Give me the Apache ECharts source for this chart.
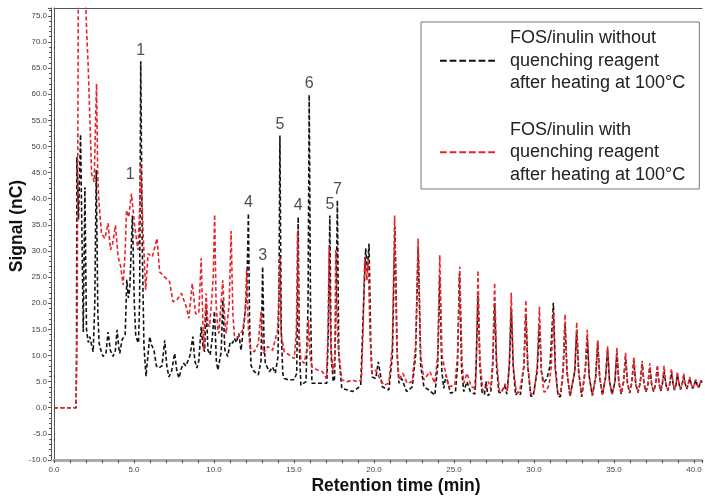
<!DOCTYPE html>
<html>
<head>
<meta charset="utf-8">
<script src="https://cdn.jsdelivr.net/npm/echarts@6/dist/echarts.min.js"></script>
<style>html,body{margin:0;padding:0;background:#fff}#c{width:705px;height:496px}</style>
</head>
<body>
<div id="c"></div>
<script>
// [retention time (min), signal (nC)]
const blackTrace = [
[0,0],[1.38,0],[1.41,12],[1.43,48],[1.53,36],[1.66,52.3],[1.76,30],[1.83,14.5],[1.93,42.2],[2.03,15],[2.14,12.5],[2.24,13.6],[2.35,12],[2.45,10.7],[2.55,20],[2.64,45.5],[2.74,18],[2.82,12.4],[2.97,10.5],[3.07,9.8],[3.25,10.5],[3.38,14.5],[3.52,11],[3.69,9.8],[3.84,11],[3.94,14.9],[4.05,11.5],[4.11,10.4],[4.25,13],[4.36,12.9],[4.45,14],[4.55,24.5],[4.65,21],[4.74,23],[4.90,36.8],[5.02,20],[5.11,13.6],[5.28,12.4],[5.35,20],[5.42,66.3],[5.52,30],[5.62,12],[5.75,6],[5.84,5.7],[5.98,13.6],[6.10,12],[6.25,11],[6.40,8],[6.54,7.6],[6.75,8],[6.92,12.9],[7.05,8],[7.18,5.9],[7.35,7],[7.54,10.4],[7.68,7],[7.81,5.7],[7.96,7.5],[8.10,8.5],[8.25,8],[8.37,7.8],[8.50,10],[8.68,13.6],[8.80,9],[8.93,7.6],[9.05,9],[9.20,15.5],[9.30,12],[9.41,10.7],[9.51,20],[9.62,11],[9.76,10.1],[9.88,13],[10.03,18.5],[10.15,9],[10.24,7.2],[10.35,9],[10.45,10.7],[10.55,20.6],[10.68,11],[10.86,9.8],[11.01,12.6],[11.17,12.4],[11.28,13.3],[11.40,12.5],[11.55,14.2],[11.69,11],[11.90,16.8],[12.05,22],[12.15,37.2],[12.23,15],[12.32,8],[12.52,6.9],[12.77,6.3],[12.94,9],[13.04,27],[13.13,12],[13.21,8.5],[13.46,6.9],[13.66,7.8],[13.83,6.6],[14.00,9.8],[14.06,22],[14.12,52.1],[14.20,15],[14.30,6.5],[14.39,5.6],[14.70,5.3],[15.02,5.4],[15.17,6.6],[15.22,20],[15.26,36.5],[15.33,12],[15.43,4.3],[15.75,5],[15.88,20],[15.95,59.9],[16.03,20],[16.12,4.7],[16.47,4.7],[16.78,4.7],[17.05,4.7],[17.15,15],[17.24,36.8],[17.32,10],[17.45,5],[17.53,5.5],[17.63,20],[17.71,39.7],[17.80,10],[17.99,3.7],[18.34,3.4],[18.65,3.1],[18.96,3.7],[19.17,4.3],[19.35,20],[19.48,30.5],[19.58,26.3],[19.69,31.4],[19.80,12],[19.89,5.9],[20.11,5.6],[20.27,8.8],[20.52,4],[20.93,3.4],[21.15,10],[21.31,34.6],[21.45,10],[21.56,4.7],[21.73,5.6],[22.04,3.1],[22.39,4],[22.60,10],[22.76,30.8],[22.92,8],[23.12,4],[23.43,3.4],[23.80,2.4],[23.98,8],[24.11,25],[24.24,7],[24.36,3.7],[24.50,6.3],[24.78,2.8],[25.09,3.1],[25.22,8],[25.34,25.7],[25.48,7],[25.61,3.1],[25.81,5],[26.02,3.1],[26.30,2.6],[26.38,8],[26.50,21.5],[26.62,8],[26.75,3],[26.90,2.5],[27.00,5],[27.12,2.3],[27.30,3],[27.42,8],[27.54,20],[27.66,8],[27.80,3],[27.95,2.8],[28.16,4.3],[28.30,2.6],[28.46,8],[28.58,19],[28.70,8],[28.85,2.4],[29.00,3],[29.15,2.5],[29.37,8],[29.49,18],[29.61,8],[29.80,2.2],[29.95,2.2],[30.20,7],[30.34,16],[30.46,7],[30.60,4.8],[30.80,5.5],[31.00,8],[31.21,20.1],[31.33,8],[31.50,2.2],[31.65,2.1],[31.82,7],[31.94,16.1],[32.06,7],[32.25,2.1],[32.55,7],[32.67,14.7],[32.79,7],[32.98,2.1],[33.20,7],[33.33,13.3],[33.45,6],[33.65,2.3],[33.86,6],[33.98,12.6],[34.10,6],[34.28,2.4],[34.48,6],[34.60,11.2],[34.72,5],[34.88,2.5],[35.06,5],[35.18,10.4],[35.30,5],[35.45,2.6],[35.60,5],[35.72,9.8],[35.84,4.8],[35.98,2.8],[36.12,5],[36.24,9],[36.36,4.5],[36.50,2.9],[36.64,4.8],[36.76,8.4],[36.88,4.5],[37.00,3],[37.12,4.5],[37.24,7.7],[37.36,4.2],[37.48,3.1],[37.60,4.5],[37.71,7.7],[37.82,4.5],[37.92,3.2],[38.02,4.5],[38.13,7],[38.25,4.3],[38.36,3.3],[38.48,4.5],[38.59,6.6],[38.70,4.5],[38.78,3.4],[38.88,4.5],[38.96,6.3],[39.06,4.6],[39.16,3.5],[39.26,4.5],[39.36,5.9],[39.46,4.5],[39.55,3.6],[39.64,4.5],[39.73,5.6],[39.83,4.5],[39.92,3.7],[40.02,4.4],[40.11,5.3],[40.20,4.4],[40.28,3.8],[40.36,4.5],[40.44,5.2],[40.50,4.8]
];
const redTrace = [
[0,0],[1.38,0],[1.41,0],[1.45,17],[1.52,80],[1.75,100],[1.98,78],[2.04,72],[2.14,65.2],[2.35,44.8],[2.51,43.2],[2.60,55],[2.66,62],[2.73,45],[2.80,39.7],[2.97,33.3],[3.18,32.4],[3.38,35.3],[3.53,30.2],[3.66,31.4],[3.84,34.9],[4.01,28.9],[4.17,27],[4.32,23.5],[4.45,30],[4.53,37.8],[4.67,36.5],[4.84,41],[5.05,34.6],[5.25,30.2],[5.35,38],[5.42,46.5],[5.50,40],[5.56,34],[5.73,22.6],[5.88,29.5],[6.15,28.9],[6.44,32.4],[6.60,26],[6.92,25],[7.23,24.1],[7.43,20.3],[7.68,20.6],[7.96,21.9],[8.27,19.3],[8.43,17.1],[8.64,23.8],[8.85,18],[9.05,18],[9.20,28.6],[9.35,11],[9.51,21.9],[9.62,16],[9.72,15.5],[9.84,20],[9.95,25],[10.04,37],[10.13,20],[10.24,14.9],[10.30,14.2],[10.55,24.4],[10.65,18],[10.76,14.2],[10.95,20],[11.07,33.8],[11.18,18],[11.28,13.6],[11.55,13.6],[11.79,14.9],[11.95,18],[12.04,26.7],[12.15,15],[12.26,11.4],[12.52,10.7],[12.77,12.3],[12.94,18.4],[13.08,10.4],[13.35,11.7],[13.66,11],[13.98,14.9],[14.06,22],[14.12,29],[14.20,14],[14.39,10.7],[14.70,10.1],[15.02,9.4],[15.15,15],[15.22,33.7],[15.32,14],[15.43,9.1],[15.64,8.5],[15.85,12],[15.91,16.8],[16.00,10],[16.12,7.8],[16.47,7.2],[16.78,6.9],[17.03,5.6],[17.12,14],[17.20,30.8],[17.30,12],[17.45,6.6],[17.55,10],[17.61,30.2],[17.75,12],[17.99,5.3],[18.34,5],[18.65,5.3],[18.96,5],[19.21,5.3],[19.32,15],[19.42,28.9],[19.55,24.4],[19.64,28.2],[19.75,14],[19.86,6.6],[20.11,7.2],[20.31,5.9],[20.62,4.3],[20.93,4.7],[21.15,12],[21.29,36.8],[21.42,12],[21.56,5.3],[21.81,6.6],[22.07,4.7],[22.39,5],[22.60,12],[22.76,32.4],[22.92,10],[23.12,5.3],[23.49,6.9],[23.80,4.7],[23.98,10],[24.11,29.2],[24.25,10],[24.42,7.5],[24.67,4],[25.05,4.3],[25.22,10],[25.36,27],[25.50,9],[25.61,4.7],[25.81,6.6],[26.09,4],[26.34,3.7],[26.40,9],[26.50,26.3],[26.62,9],[26.80,3.2],[26.95,3.5],[27.15,5],[27.30,3.5],[27.42,9],[27.54,23.9],[27.66,9],[27.85,3],[28.00,3.2],[28.20,4.6],[28.35,3.2],[28.46,9],[28.58,22],[28.70,8],[28.90,2.8],[29.10,3],[29.37,8],[29.49,20.6],[29.61,8],[29.80,2.6],[30.00,2.8],[30.20,8],[30.34,19.3],[30.46,7],[30.62,3],[30.78,3.2],[30.95,4.5],[31.08,8],[31.21,18.7],[31.33,7],[31.50,2.6],[31.65,2.6],[31.82,7],[31.94,17.9],[32.06,7],[32.25,2.3],[32.55,7],[32.67,16.4],[32.79,7],[32.98,2.3],[33.20,7],[33.33,14.9],[33.45,6],[33.65,2.4],[33.86,6],[33.98,12.9],[34.10,6],[34.28,2.5],[34.48,6],[34.60,11.8],[34.72,5],[34.88,2.6],[35.06,5],[35.18,11.5],[35.30,5],[35.45,2.7],[35.60,5],[35.72,10.5],[35.84,4.8],[35.98,2.9],[36.12,5],[36.24,9.8],[36.36,4.5],[36.50,3],[36.64,4.8],[36.76,9],[36.88,4.5],[37.00,3.1],[37.12,4.5],[37.24,8.5],[37.36,4.2],[37.48,3.2],[37.60,4.5],[37.71,8.2],[37.82,4.5],[37.92,3.3],[38.02,4.5],[38.13,8],[38.25,4.3],[38.36,3.4],[38.48,4.5],[38.59,7.5],[38.70,4.5],[38.78,3.5],[38.88,4.5],[38.96,6.9],[39.06,4.6],[39.16,3.6],[39.26,4.5],[39.36,6.6],[39.46,4.5],[39.55,3.7],[39.64,4.5],[39.73,5.9],[39.83,4.5],[39.92,3.8],[40.02,4.4],[40.11,5.4],[40.20,4.4],[40.28,3.9],[40.36,4.5],[40.44,5.3],[40.50,4.9]
];
const peakLabelText = ['1','1','4','3','5','4','6','5','7'];
const peakLabelTime = [4.76, 5.42, 12.15, 13.04, 14.12, 15.26, 15.95, 17.24, 17.71];
const peakLabelSignal = [42.5, 66.3, 37.2, 27, 52.1, 36.5, 59.9, 36.8, 39.7];
const seriesNames = ['FOS/inulin without\nquenching reagent\nafter heating at 100°C',
                     'FOS/inulin with\nquenching reagent\nafter heating at 100°C'];

const FONT = 'Liberation Sans, Arial, sans-serif';
const chart = echarts.init(document.getElementById('c'), null, {renderer: 'canvas'});
const tickFmt = v => (Math.abs(v % 5) < 1e-9 ? v.toFixed(1) : '');
const labelPts = peakLabelText.map((t, i) => [peakLabelTime[i], peakLabelSignal[i], t]);
const dashIcon = 'path://M0,0h6.5v1.6h-6.5z M9.3,0h6.5v1.6h-6.5z M18.6,0h6.5v1.6h-6.5z M27.9,0h6.5v1.6h-6.5z M37.2,0h6.5v1.6h-6.5z M46.5,0h6.5v1.6h-6.5z';

chart.setOption({
  animation: false,
  backgroundColor: '#fff',
  grid: {left: 54, right: 1, top: 8, bottom: 36},
  legend: {
    orient: 'vertical', left: 421, top: 22,
    padding: [5, 14, 3, 19], itemGap: 24, itemWidth: 55, itemHeight: 2,
    icon: dashIcon, symbolKeepAspect: false,
    borderColor: '#777', borderWidth: 1,
    textStyle: {fontFamily: FONT, fontSize: 18, lineHeight: 22.5, color: '#222', padding: [0, 0, 0, 10]},
    data: seriesNames
  },
  xAxis: [{
    type: 'value', min: 0, max: 40.5, interval: 5,
    axisLine: {onZero: false, lineStyle: {color: '#aaa', width: 3}},
    axisTick: {show: true, length: 3, lineStyle: {color: '#555'}},
    minorTick: {show: true, splitNumber: 5, length: 3, lineStyle: {color: '#555'}},
    splitLine: {show: false},
    axisLabel: {formatter: tickFmt, fontFamily: FONT, fontSize: 8, color: '#444', margin: 6}
  }, {
    type: 'value', position: 'top', min: 0, max: 40.5,
    axisLine: {show: true, onZero: false, lineStyle: {color: '#555', width: 1}},
    axisTick: {show: false}, axisLabel: {show: false}, splitLine: {show: false}
  }],
  yAxis: [{
    type: 'value', min: -10, max: 76.5, interval: 5,
    axisLine: {show: true, onZero: false, lineStyle: {color: '#555', width: 1}},
    axisTick: {show: false}, axisLabel: {show: false}, splitLine: {show: false}
  }, {
    type: 'value', min: -10, max: 76.5, interval: 5, offset: 3, position: 'left',
    axisLine: {show: true, onZero: false, lineStyle: {color: '#555', width: 1}},
    axisTick: {show: true, length: 3, lineStyle: {color: '#555'}},
    minorTick: {show: true, splitNumber: 5, length: 2, lineStyle: {color: '#555'}},
    splitLine: {show: false},
    axisLabel: {formatter: tickFmt, fontFamily: FONT, fontSize: 8, color: '#444', margin: 4}
  }],
  graphic: [
    {type: 'text', x: 396, y: 486, style: {text: 'Retention time (min)', font: 'bold 17.5px ' + FONT, fill: '#111', align: 'center', verticalAlign: 'middle'}},
    {type: 'text', x: 17, y: 226, rotation: Math.PI / 2, style: {text: 'Signal (nC)', font: 'bold 17.5px ' + FONT, fill: '#111', align: 'center', verticalAlign: 'middle'}}
  ],
  series: [
    {
      name: seriesNames[0], type: 'line', data: blackTrace, symbol: 'none', z: 2,
      lineStyle: {color: '#111', width: 1.6, type: [4, 2.5]}, itemStyle: {color: '#111'}
    },
    {
      name: seriesNames[1], type: 'line', data: redTrace, symbol: 'none', z: 3,
      lineStyle: {color: '#e8232b', width: 1.6, type: [4, 2.5]}, itemStyle: {color: '#e8232b'}
    },
    {
      name: 'labels', type: 'scatter', data: labelPts, symbolSize: 0, silent: true, z: 5,
      label: {show: true, position: 'top', distance: 3, formatter: p => p.value[2],
              fontFamily: FONT, fontSize: 16, color: '#222'}
    }
  ]
});
</script>
</body>
</html>
